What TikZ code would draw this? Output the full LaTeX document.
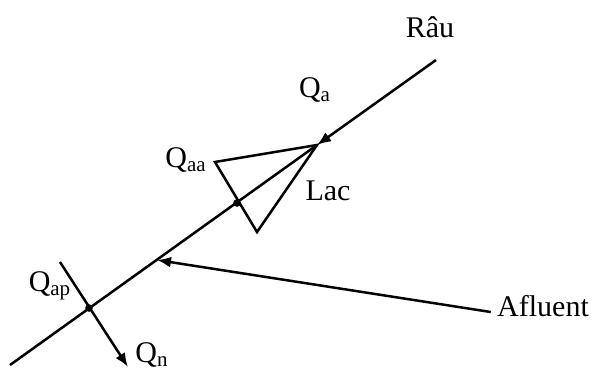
\documentclass[tikz,border=0pt]{standalone}
\usepackage{fontspec}
\setmainfont{Liberation Serif}
\usetikzlibrary{arrows.meta}

\begin{document}
\begin{tikzpicture}[x=0.5pt,y=-0.5pt,
  font=\fontsize{15}{18}\selectfont,
  flow/.style={line width=1.25pt},
  tip/.style={-{Latex[length=7pt,width=5.5pt]}},
  junc/.style={circle,fill,inner sep=0pt,minimum size=3.8pt},
  lbl/.style={inner sep=1pt},
]
\useasboundingbox (0,0) rectangle (592,372);
% main river
\coordinate (mouth) at (10,365);
\coordinate (src) at (436,60);
\coordinate (jqa) at (317,145);
\coordinate (jlac) at (237,203);
\coordinate (jaf) at (157,260);
\node[junc] (jap) at (89,308) {};
\draw[flow,tip] (src) -- (jqa);
\draw[flow] (jqa) -- (mouth);

% lake
\coordinate (lacw) at (215,162);
\coordinate (lacs) at (257,232);
\draw[flow,line join=miter] (jqa) -- (lacw) -- (lacs) -- cycle;
\node[junc] at (jlac) {};

% tributary
\node[lbl] (afl) at (543,306) {Afluent};
\draw[flow,tip] (afl.west |- 0,312) ++(-4,0) -- (jaf);

% abstraction section
\coordinate (apin) at (60,262);
\coordinate (qnend) at (128,367);
\draw[flow,tip] (apin) -- (qnend);

% labels
\node[lbl] (rau) at (430,27) {Râu};
\node[lbl] (qa) at (315,90) {Q\textsubscript{a}};
\node[lbl] (qaa) at (186,160) {Q\textsubscript{aa}};
\node[lbl] (lac) at (328,191) {Lac};
\node[lbl] (qap) at (50,286) {Q\textsubscript{ap}};
\node[lbl] (qn) at (152,355) {Q\textsubscript{n}};
\end{tikzpicture}
\end{document}
